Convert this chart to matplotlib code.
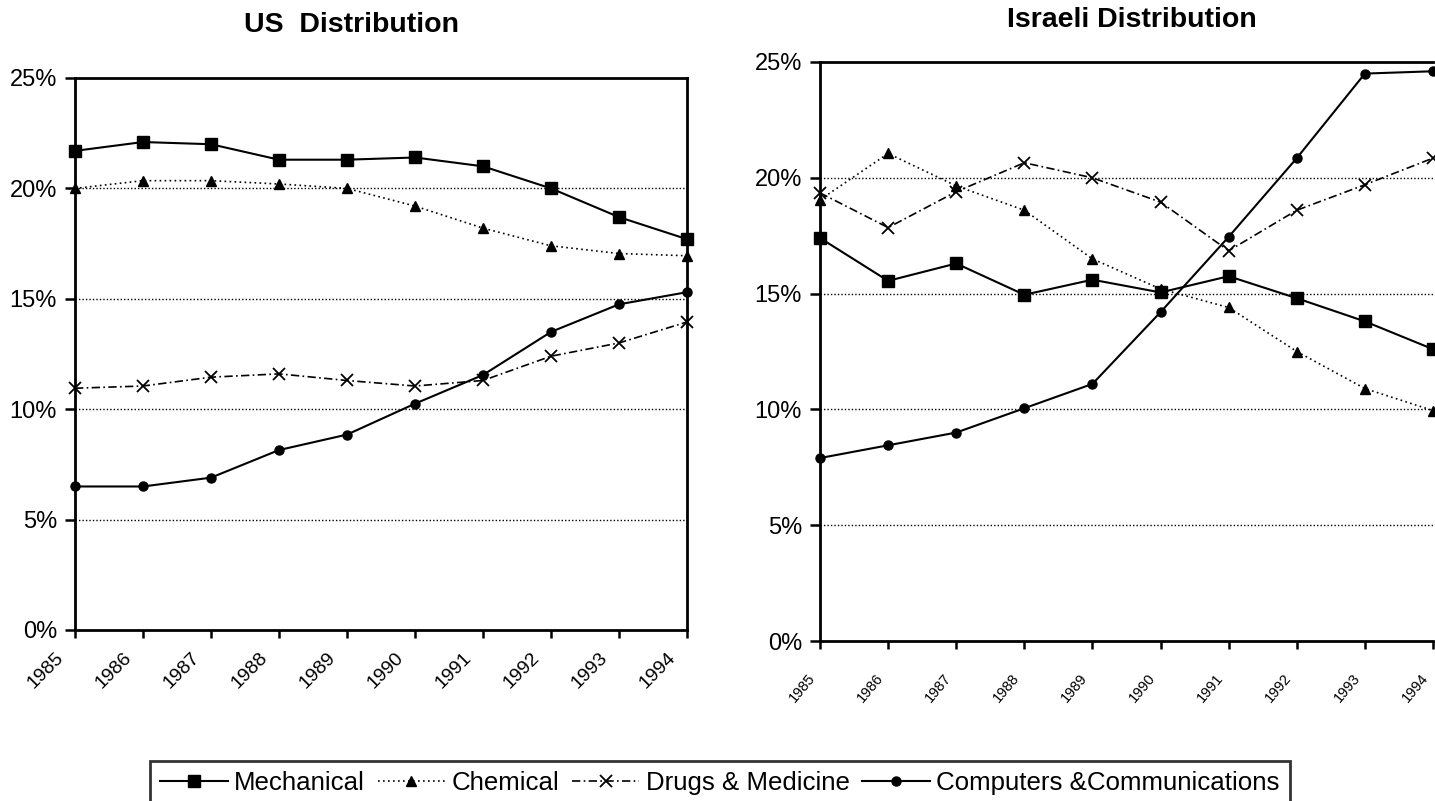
import matplotlib
matplotlib.use('Agg')
import matplotlib.pyplot as plt
from matplotlib.ticker import FuncFormatter
from matplotlib.transforms import ScaledTranslation

# data
years = ['1985', '1986', '1987', '1988', '1989', '1990', '1991', '1992', '1993', '1994']
series_names = ['Mechanical', 'Chemical', 'Drugs & Medicine', 'Computers &Communications']

us_mechanical = [21.7, 22.1, 22.0, 21.3, 21.3, 21.4, 21.0, 20.0, 18.7, 17.7]
us_chemical = [20.0, 20.35, 20.35, 20.2, 20.0, 19.2, 18.2, 17.4, 17.05, 16.95]
us_drugs = [10.95, 11.05, 11.45, 11.6, 11.3, 11.05, 11.3, 12.4, 13.0, 13.95]
us_computers = [6.5, 6.5, 6.9, 8.15, 8.85, 10.25, 11.55, 13.5, 14.75, 15.3]

il_mechanical = [17.4, 15.55, 16.3, 14.95, 15.6, 15.05, 15.75, 14.8, 13.8, 12.6]
il_chemical = [19.05, 21.05, 19.65, 18.6, 16.5, 15.2, 14.4, 12.5, 10.9, 9.95]
il_drugs = [19.35, 17.85, 19.4, 20.65, 20.0, 18.95, 16.85, 18.6, 19.7, 20.85]
il_computers = [7.9, 8.45, 9.0, 10.05, 11.1, 14.2, 17.45, 20.85, 24.5, 24.6]

FONT = 'Liberation Sans'

styles = [dict(linestyle='-', marker='s', markersize=8.5, linewidth=1.5),
          dict(linestyle=(0, (1, 2)), marker='^', markersize=7.5, linewidth=1.2),
          dict(linestyle=(0, (5, 2, 1, 2)), marker='x', markersize=8, markeredgewidth=1.3, linewidth=1.2),
          dict(linestyle='-', marker='o', markersize=6.5, linewidth=1.5)]

fig = plt.figure(figsize=(14.35, 8.01), dpi=100)
W, H = 1435.0, 801.0
ax1 = fig.add_axes([75 / W, 1 - 630 / H, 612 / W, 552 / H])
ax2 = fig.add_axes([820 / W, 1 - 641 / H, 613 / W, 579 / H])

pct = FuncFormatter(lambda v, p: '%d%%' % v)
x = list(range(len(years)))

def px_shift(dx, dy):
    # shift in pixels (dpi 100)
    return ScaledTranslation(dx / 100.0, dy / 100.0, fig.dpi_scale_trans)

def draw(ax, data, right_spine=True):
    lines = []
    for vals, st in zip(data, styles):
        l, = ax.plot(x, vals, color='black', clip_on=False, **st)
        lines.append(l)
    ax.set_xlim(0, 9)
    ax.set_ylim(0, 25)
    ax.set_yticks([0, 5, 10, 15, 20, 25])
    ax.yaxis.set_major_formatter(pct)
    ax.set_xticks(x)
    ax.tick_params(axis='y', labelsize=17, length=7, width=1.8, direction='out', pad=6)
    ax.tick_params(axis='x', length=6, width=1.8, direction='out')
    for lab in ax.get_yticklabels():
        lab.set_family(FONT)
    for y in [5, 10, 15, 20]:
        ax.axhline(y, color='black', linestyle=(0, (1, 1.5)), linewidth=1, zorder=0)
    for s in ax.spines.values():
        s.set_linewidth(2)
    ax.spines['right'].set_visible(right_spine)
    return lines

handles = draw(ax1, [us_mechanical, us_chemical, us_drugs, us_computers])
draw(ax2, [il_mechanical, il_chemical, il_drugs, il_computers], right_spine=False)

# year labels
ax1.set_xticklabels(years, rotation=45, fontsize=14, ha='right', va='top',
                    rotation_mode='anchor', family=FONT)
for lab in ax1.get_xticklabels():
    lab.set_transform(lab.get_transform() + px_shift(-20, -6))

ax2.set_xticklabels(years, rotation=50, fontsize=10.5, ha='right', va='top',
                    rotation_mode='anchor', family=['Liberation Sans Narrow', FONT])
for lab in ax2.get_xticklabels():
    lab.set_transform(lab.get_transform() + px_shift(-13, -17))

fig.text(351 / W, 1 - 25 / H, 'US  Distribution', ha='center', va='center',
         fontsize=20.5, fontweight='bold', family=FONT)
fig.text(1132 / W, 1 - 20 / H, 'Israeli Distribution', ha='center', va='center',
         fontsize=20.5, fontweight='bold', family=FONT)

leg = fig.legend(handles, series_names, loc='upper left', ncol=4,
                 bbox_to_anchor=(150 / W, 1 - 761 / H),
                 frameon=True, fancybox=False, borderaxespad=0,
                 handlelength=2.6, columnspacing=0.5, handletextpad=0.25,
                 borderpad=0.4, edgecolor='black',
                 prop={'family': FONT, 'size': 18.6})
leg.get_frame().set_linewidth(2)

fig.savefig('out.png', dpi=100)
